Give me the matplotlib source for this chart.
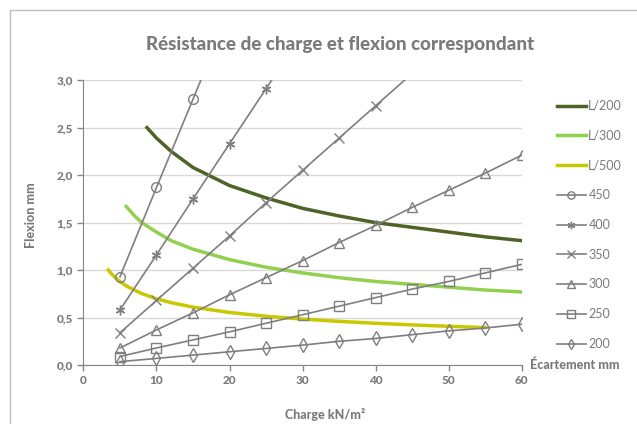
import matplotlib
matplotlib.use("Agg")
import matplotlib.pyplot as plt
from matplotlib.patches import Rectangle
from matplotlib.ticker import FuncFormatter

plt.rcParams['font.family'] = ['Lato', 'DejaVu Sans']

# data
charge = [5, 10, 15, 20, 25, 30, 35, 40, 45, 50, 55, 60]
series_labels = ['450', '400', '350', '300', '250', '200']
series_markers = ['o', (6, 2, 0), 'x', '^', 's', 'd']
series_values = [
    [0.93, 1.87, 2.80, 3.73, 4.66, 5.60, 6.53, 7.46, 8.40, 9.33, 10.26, 11.19],
    [0.58, 1.16, 1.75, 2.33, 2.91, 3.50, 4.08, 4.66, 5.24, 5.83, 6.41, 6.99],
    [0.34, 0.68, 1.02, 1.36, 1.71, 2.05, 2.39, 2.73, 3.07, 3.41, 3.76, 4.10],
    [0.18, 0.37, 0.55, 0.74, 0.92, 1.10, 1.29, 1.47, 1.66, 1.84, 2.02, 2.21],
    [0.09, 0.18, 0.265, 0.35, 0.44, 0.53, 0.62, 0.71, 0.80, 0.88, 0.97, 1.06],
    [0.036, 0.07, 0.105, 0.14, 0.175, 0.21, 0.25, 0.28, 0.32, 0.36, 0.39, 0.43],
]

l200_x = [8.7, 10, 12, 15, 20, 25, 30, 35, 40, 45, 50, 55, 60]
l200_y = [2.50, 2.39, 2.25, 2.08, 1.89, 1.76, 1.65, 1.57, 1.50, 1.45, 1.40, 1.35, 1.31]
l300_x = [5.85, 7, 8, 10, 12, 15, 20, 25, 30, 35, 40, 45, 50, 55, 60]
l300_y = [1.67, 1.57, 1.50, 1.40, 1.31, 1.22, 1.11, 1.03, 0.97, 0.92, 0.88, 0.85, 0.82, 0.79, 0.77]
l500_x = [3.4, 4, 5, 6, 8, 10, 12, 15, 20, 25, 30, 35, 40, 45, 50, 55]
l500_y = [1.0, 0.947, 0.879, 0.827, 0.752, 0.698, 0.657, 0.610, 0.554, 0.514,
          0.484, 0.460, 0.440, 0.423, 0.408, 0.395]

txt = '#7a7a7a'
grey = '#7f7f7f'

fig = plt.figure(figsize=(6.37, 4.24), dpi=100)
ax = fig.add_axes([0.131, 0.139, 0.688, 0.672])

# outer chart frame
fig.patches.append(Rectangle((10 / 637, -0.1), 1.2, 1 - 10 / 424 + 0.1,
                             transform=fig.transFigure, fill=False,
                             edgecolor='#bfbfbf', linewidth=1))

ax.plot(l200_x, l200_y, color='#4f6228', lw=2.5, label='L/200', zorder=3)
ax.plot(l300_x, l300_y, color='#92d050', lw=2.5, label='L/300', zorder=3)
ax.plot(l500_x, l500_y, color='#c8c800', lw=2.5, label='L/500', zorder=3)

for lab, mk, vals in zip(series_labels, series_markers, series_values):
    ax.plot(charge, vals, color=grey, lw=1.2, marker=mk, ms=7,
            mfc='none', mec=grey, mew=1, label=lab, zorder=4)

ax.set_xlim(0, 60)
ax.set_ylim(0, 3.0)
ax.set_xticks(range(0, 61, 10))
ax.set_yticks([0, 0.5, 1.0, 1.5, 2.0, 2.5, 3.0])
ax.yaxis.set_major_formatter(FuncFormatter(lambda v, p: f'{v:.1f}'.replace('.', ',')))
ax.grid(axis='y', color='#d9d9d9', lw=1)
ax.set_axisbelow(True)
for s in ['top', 'right']:
    ax.spines[s].set_visible(False)
for s in ['left', 'bottom']:
    ax.spines[s].set_color('#868686')
ax.tick_params(colors='#868686', length=4, width=1, labelsize=8.5, labelcolor=txt)
for t in ax.get_xticklabels() + ax.get_yticklabels():
    t.set_fontweight('black')

ax.set_xlabel('Charge kN/m²', color=txt, fontsize=9, fontweight='black')
ax.xaxis.set_label_coords(0.551, -0.151)
ax.set_ylabel('Flexion mm', color=txt, fontsize=9, fontweight='black')
ax.yaxis.set_label_coords(-0.106, 0.526)
fig.text(0.534, 0.895, 'Résistance de charge et flexion correspondant',
         ha='center', va='center', color=txt, fontsize=13.5, fontweight='black')

leg = ax.legend(loc='upper left', bbox_to_anchor=(1.055, 0.97), frameon=False,
                fontsize=9, handlelength=2.3, handletextpad=0.2,
                labelspacing=1.42, markerscale=0.75)
for t in leg.get_texts():
    t.set_color(txt)
fig.text(530 / 637, 1 - 365 / 424, 'Écartement mm', ha='left', va='center',
         color=txt, fontsize=9, fontweight='black')

fig.savefig('out.png', dpi=100)
